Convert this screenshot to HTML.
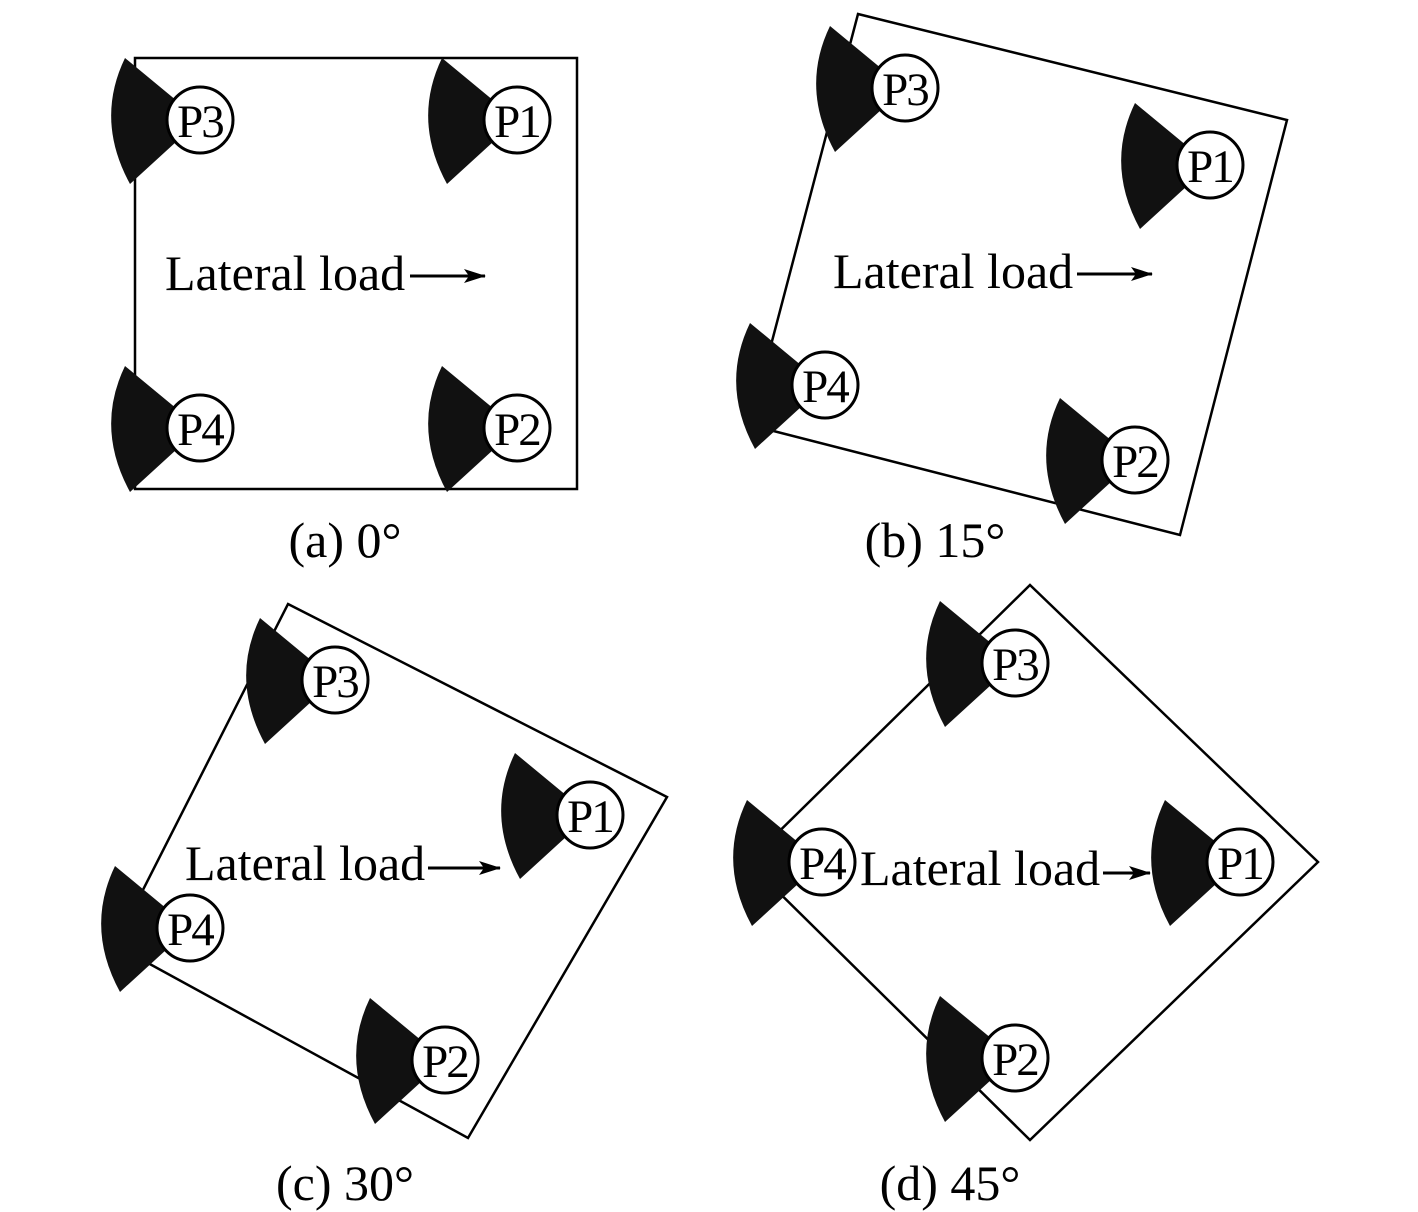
<!DOCTYPE html>
<html><head><style>body{margin:0;background:#fff}svg{display:block}</style></head><body>
<svg width="1418" height="1212" viewBox="0 0 1418 1212" xmlns="http://www.w3.org/2000/svg" font-family="Liberation Serif, serif">
<defs>
<g id="fan"><path d="M0,0 L-75,-62 Q-105,0 -70,64 Z" fill="#111"/><circle r="33" fill="#fff" stroke="#000" stroke-width="3"/></g>
<marker id="ar" markerWidth="22" markerHeight="14" refX="21" refY="7" orient="auto" markerUnits="userSpaceOnUse"><path d="M0,0 L22,7 L0,14 L5,7 Z"/></marker>
</defs>
<g fill="none" stroke="#000" stroke-width="2.5">
<rect x="135" y="58" width="442" height="431"/>
<polygon points="858,14 1287,120 1180,535 750,425"/>
<polygon points="288,604 667,797 468,1138 115,945"/>
<polygon points="1030,585 1318,862 1030,1140 748,862"/>
</g>
<g font-size="47" text-anchor="middle" letter-spacing="-2">
<use href="#fan" x="200" y="120"/><text x="200" y="137">P3</text>
<use href="#fan" x="517" y="120"/><text x="517" y="137">P1</text>
<use href="#fan" x="200" y="428"/><text x="200" y="445">P4</text>
<use href="#fan" x="517" y="428"/><text x="517" y="445">P2</text>
<use href="#fan" x="905" y="88"/><text x="905" y="105">P3</text>
<use href="#fan" x="1210" y="165"/><text x="1210" y="182">P1</text>
<use href="#fan" x="825" y="385"/><text x="825" y="402">P4</text>
<use href="#fan" x="1135" y="460"/><text x="1135" y="477">P2</text>
<use href="#fan" x="335" y="680"/><text x="335" y="697">P3</text>
<use href="#fan" x="590" y="815"/><text x="590" y="832">P1</text>
<use href="#fan" x="190" y="928"/><text x="190" y="945">P4</text>
<use href="#fan" x="445" y="1060"/><text x="445" y="1077">P2</text>
<use href="#fan" x="1015" y="663"/><text x="1015" y="680">P3</text>
<use href="#fan" x="1240" y="862"/><text x="1240" y="879">P1</text>
<use href="#fan" x="822" y="862"/><text x="822" y="879">P4</text>
<use href="#fan" x="1015" y="1058"/><text x="1015" y="1075">P2</text>
</g>
<g font-size="50" text-anchor="middle">
<text x="345" y="557">(a) 0°</text>
<text x="935" y="557">(b) 15°</text>
<text x="345" y="1200">(c) 30°</text>
<text x="950" y="1200">(d) 45°</text>
</g>
<g font-size="50">
<text x="165" y="290">Lateral load</text>
<text x="833" y="288">Lateral load</text>
<text x="185" y="880">Lateral load</text>
<text x="860" y="885">Lateral load</text>
</g>
<g stroke="#000" stroke-width="3" marker-end="url(#ar)">
<line x1="410" y1="276" x2="485" y2="276"/>
<line x1="1077" y1="274" x2="1152" y2="274"/>
<line x1="428" y1="868" x2="500" y2="868"/>
<line x1="1103" y1="873" x2="1150" y2="873"/>
</g>
</svg>
</body></html>
